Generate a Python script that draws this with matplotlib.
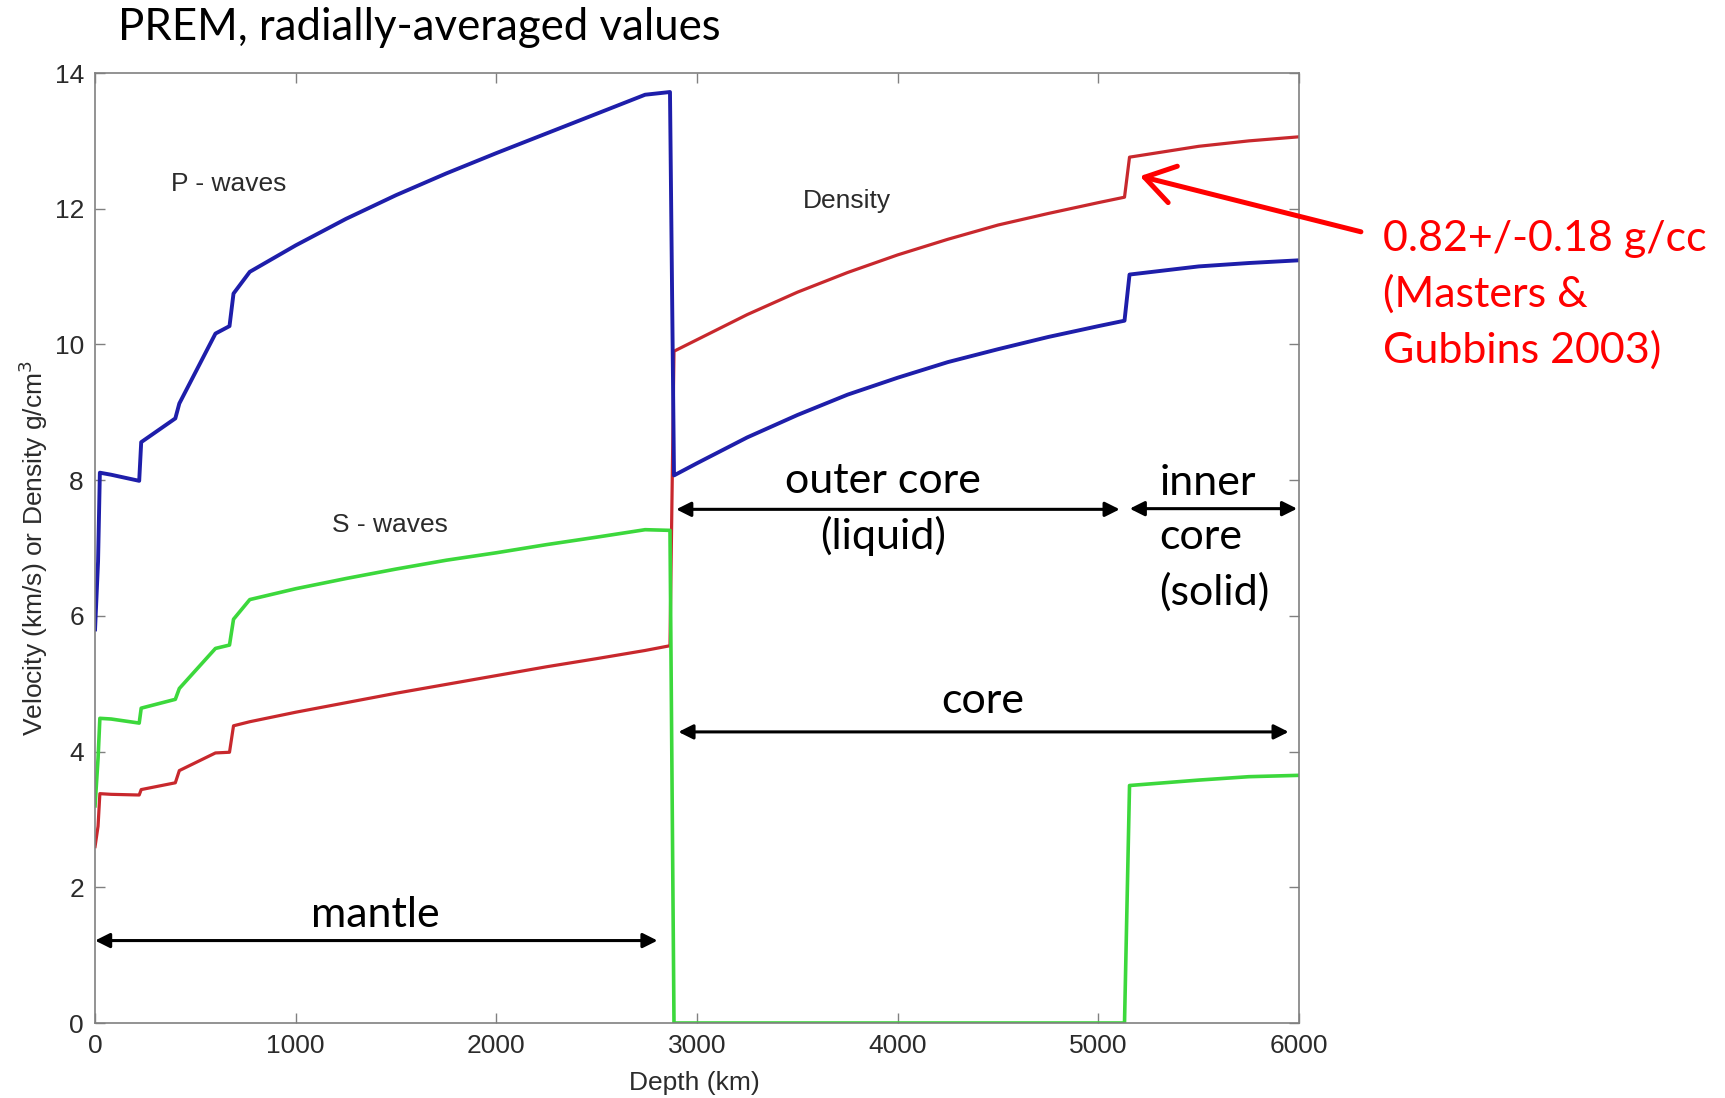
import matplotlib
matplotlib.use("Agg")
import matplotlib.pyplot as plt

# PREM values (depth in km)
depth = [0, 15, 24, 80, 220, 230, 400, 420, 600, 670, 690, 771, 1000, 1250, 1500, 1750, 2000,
         2250, 2500, 2741, 2865, 2885, 3000, 3250, 3500, 3750, 4000, 4250, 4500, 4750, 5000,
         5130, 5155, 5500, 5750, 6000]
p_wave = [5.8, 6.8, 8.11, 8.08, 7.99, 8.56, 8.91, 9.13, 10.16, 10.27, 10.75, 11.07, 11.46, 11.85, 12.20, 12.52, 12.82,
          13.11, 13.40, 13.68, 13.72, 8.07, 8.25, 8.63, 8.96, 9.26, 9.51, 9.74, 9.93, 10.11, 10.27,
          10.35, 11.03, 11.15, 11.20, 11.24]
s_wave = [3.2, 3.9, 4.49, 4.48, 4.42, 4.64, 4.77, 4.93, 5.52, 5.57, 5.95, 6.24, 6.40, 6.55, 6.69, 6.82, 6.93,
          7.05, 7.16, 7.27, 7.26, 0, 0, 0, 0, 0, 0, 0, 0, 0, 0,
          0, 3.50, 3.58, 3.63, 3.65]
density = [2.6, 2.9, 3.38, 3.37, 3.36, 3.44, 3.54, 3.72, 3.98, 3.99, 4.38, 4.44, 4.58, 4.72, 4.86, 4.99, 5.12,
           5.25, 5.37, 5.49, 5.56, 9.90, 10.07, 10.44, 10.77, 11.06, 11.32, 11.55, 11.76, 11.93, 12.09,
           12.17, 12.76, 12.92, 13.00, 13.06]

xticks = [0, 1000, 2000, 3000, 4000, 5000, 6000]
yticks = [0, 2, 4, 6, 8, 10, 12, 14]

fig = plt.figure(figsize=(17.25, 10.98), dpi=100)
ax = fig.add_axes([0.0551, 0.0683, 0.698, 0.8652])

ax.plot(depth, density, color="#c8282d", lw=2.3)
ax.plot(depth, p_wave, color="#1e1eaa", lw=2.8)
ax.plot(depth, s_wave, color="#3cd83c", lw=2.6)

ax.set_xlim(0, 6000)
ax.set_ylim(0, 14)
ax.set_xticks(xticks)
ax.set_yticks(yticks)

mfont = "Liberation Sans"
tcol = "#2b2b2b"
ax.tick_params(direction="in", top=True, right=True, length=7, width=1, color="#808080",
               labelsize=19, labelcolor=tcol, pad=8)
for lab in ax.get_xticklabels() + ax.get_yticklabels():
    lab.set_fontfamily(mfont)
for sp in ax.spines.values():
    sp.set_color("#808080")
    sp.set_linewidth(1.2)

ax.set_xlabel("Depth (km)", fontsize=19, color=tcol, family=mfont)
ax.set_ylabel("Velocity (km/s) or Density g/cm$^3$", fontsize=19, color=tcol, family=mfont)
ax.xaxis.set_label_coords(0.498, -0.05)
ax.yaxis.set_label_coords(-0.037, 0.5)

# curve names
ax.text(664, 12.36, "P - waves", fontsize=19, color=tcol, family=mfont, ha="center", va="center")
ax.text(1470, 7.34, "S - waves", fontsize=19, color=tcol, family=mfont, ha="center", va="center")
ax.text(3746, 12.12, "Density", fontsize=19, color=tcol, family=mfont, ha="center", va="center")

# region arrows
cfont = "Lato"
fs = 31
ls = 1.5
arrow = dict(arrowstyle="<|-|>", lw=2.2, color="black", mutation_scale=22, shrinkA=0, shrinkB=0)
ax.annotate("", xy=(0, 1.215), xytext=(2803, 1.215), arrowprops=arrow)
ax.annotate("", xy=(2896, 7.57), xytext=(5106, 7.57), arrowprops=arrow)
ax.annotate("", xy=(5156, 7.58), xytext=(5990, 7.58), arrowprops=arrow)
ax.annotate("", xy=(2907, 4.29), xytext=(5948, 4.29), arrowprops=arrow)

ax.text(1399, 1.59, "mantle", fontsize=fs, family=cfont, ha="center", va="center")
ax.text(4426, 4.75, "core", fontsize=fs, family=cfont, ha="center", va="center")
ax.text(3927, 7.575, "outer core\n(liquid)", fontsize=fs, family=cfont, ha="center", va="center",
        linespacing=ls)
ax.text(5303, 7.15, "inner\ncore\n(solid)", fontsize=fs, family=cfont, ha="left", va="center",
        linespacing=ls, multialignment="left")

# red note on the inner core density jump
red = "#ff0000"
ax.annotate("", xy=(5207, 12.48), xytext=(6308, 11.66), annotation_clip=False,
            arrowprops=dict(arrowstyle="->,head_length=0.7,head_width=0.45", lw=3.6, color=red,
                            mutation_scale=30, shrinkA=0, shrinkB=0))
ax.text(6418, 10.73, "0.82+/-0.18 g/cc\n(Masters &\nGubbins 2003)", fontsize=fs, family=cfont,
        color=red, ha="left", va="center", linespacing=ls, clip_on=False)

fig.text(0.0684, 0.9636, "PREM, radially-averaged values", fontsize=31.5, family=cfont,
         ha="left", va="baseline")

fig.savefig("out.png", dpi=100)
